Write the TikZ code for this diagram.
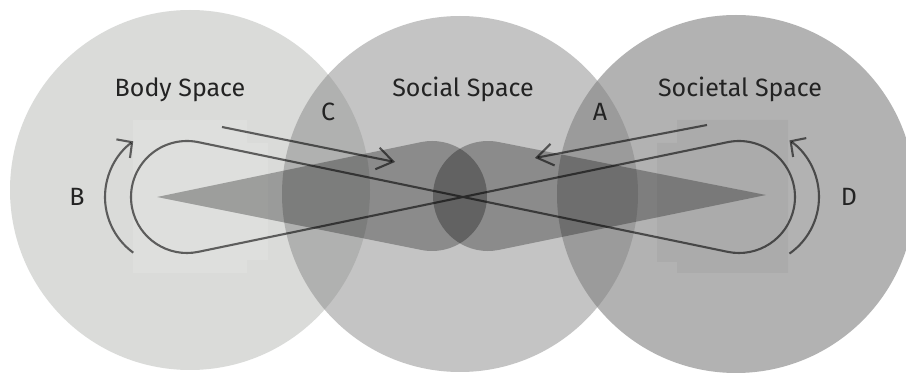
\documentclass[tikz,border=0pt]{standalone}
\usepackage{fontspec}
\setmainfont{Fira Sans}
\usetikzlibrary{arrows.meta}
\definecolor{txt}{RGB}{35,35,35}
\definecolor{leftc}{RGB}{218,219,217}
\definecolor{rightc}{RGB}{178,178,178}
\definecolor{midc}{RGB}{130,130,130}
\tikzset{
  lbl/.style={font=\fontsize{25}{30}\selectfont, text=txt, inner sep=0pt, anchor=base},
  wing/.style={fill=black, fill opacity=0.29},
  ln/.style={draw=black, draw opacity=0.58, line width=2.1pt},
  bigtip/.style={-{Straight Barb[length=16pt,width=22pt,line width=2.1pt]}},
  turntip/.style={-{Straight Barb[length=11pt,width=23pt,line width=2.1pt]}}
}
\begin{document}
\begin{tikzpicture}[x=1pt,y=-1pt]
\useasboundingbox (0,0) rectangle (906,374);
\fill[white] (0,0) rectangle (906,374);
% circles
\fill[leftc] (190,190) circle[radius=180];
\fill[rightc] (736,194) circle[radius=179];
\fill[midc, fill opacity=0.47] (460,194) circle[radius=178];
% faint rectangles
\fill[white, fill opacity=0.12] (133,120) -- (247,120) -- (247,143) -- (268,143) -- (268,260) -- (247,260) -- (247,273) -- (133,273) -- cycle;
\fill[black, fill opacity=0.04] (677,120) -- (788,120) -- (788,273) -- (677,273) -- (677,262) -- (657,262) -- (657,143) -- (677,143) -- cycle;
% wings
\fill[wing] (157,197) -- ([shift={(432,196)}]-101.54:55) arc[start angle=-101.54, end angle=101.54, radius=55] -- cycle;
\fill[wing] (766,195) -- ([shift={(488,196)}]78.6:55) arc[start angle=78.6, end angle=281.4, radius=55] -- cycle;
% loop
\draw[ln] ([shift={(187,197)}]-78.3:56) -- ([shift={(739,197)}]101.7:56)
  arc[start angle=101.7, end angle=-101.7, radius=56]
  -- ([shift={(187,197)}]78.3:56)
  arc[start angle=78.3, end angle=281.7, radius=56] -- cycle;
% straight arrows
\coordinate (c0) at (222,127);
\coordinate (c1) at (395,162);
\coordinate (a0) at (707,125);
\coordinate (a1) at (535,158);
\draw[ln, bigtip] (c0) -- (c1);
\draw[ln, bigtip] (a0) -- (a1);
% turning arrows
\coordinate (b0) at ([shift={(174,197)}]126.2:69);
\coordinate (d0) at ([shift={(750,197)}]55.1:69);
\draw[ln, turntip] (b0) arc[start angle=126.2, end angle=233.8, radius=69];
\draw[ln, turntip] (d0) arc[start angle=55.1, end angle=-55.1, radius=69];
% labels
\node[lbl] (body) at (180,97) {Body Space};
\node[lbl] (social) at (463,97) {Social Space};
\node[lbl] (societal) at (740,97) {Societal Space};
\node[lbl] (C) at (328,121) {C};
\node[lbl] (A) at (600,121) {A};
\node[lbl] (B) at (77,206) {B};
\node[lbl] (D) at (849,206) {D};
\end{tikzpicture}
\end{document}
